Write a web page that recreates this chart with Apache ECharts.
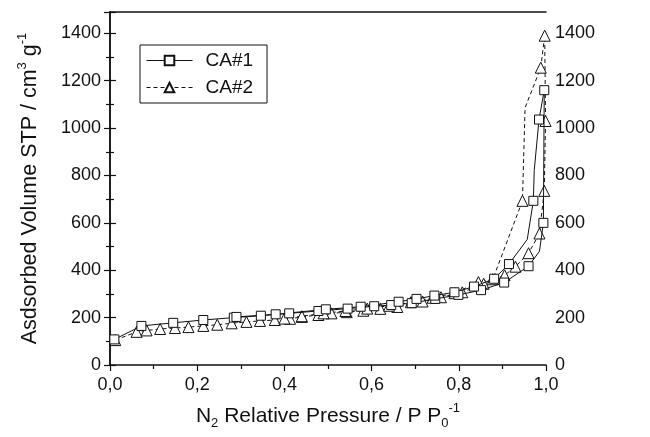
<!DOCTYPE html>
<html><head><meta charset="utf-8">
<script src="https://cdn.jsdelivr.net/npm/echarts@6/dist/echarts.min.js"></script>
<style>html,body{margin:0;padding:0;background:#fff}#c{width:650px;height:437px}</style>
</head><body><div id="c"></div>
<script>
// ---- data ----
const seriesNames = ['CA#1', 'CA#2'];
const xTickValues = [0, 0.2, 0.4, 0.6, 0.8, 1.0];
const yTickValues = [0, 200, 400, 600, 800, 1000, 1200, 1400];

// CA#1 : adsorption then desorption branch; marker flag 1 = symbol drawn
const ca1Pressure = [0.010,0.072,0.145,0.214,0.284,0.346,0.411,0.478,0.545,0.606,0.645,0.692,0.746,0.799,0.851,0.904,0.960,0.985,0.994,0.996,
                     0.984,0.973,0.971,0.957,0.915,0.881,0.835,0.790,0.744,0.703,0.662,0.575,0.495,0.380,0.290];
const ca1Volume   = [108,165,178,190,200,208,218,228,238,248,253,261,279,296,316,348,417,480,600,1160,
                     1036,821,693,530,426,364,331,307,293,279,267,246,235,214,203];
const ca1Marker   = [1,1,1,1,1,1,1,1,1,1,1,1,1,1,1,1,1,0,1,1,
                     1,0,1,0,1,1,1,1,1,1,1,1,1,1,1];

// CA#2
const ca2Pressure = [0.012,0.061,0.084,0.115,0.149,0.180,0.214,0.246,0.279,0.313,0.344,0.378,0.413,0.440,0.478,0.508,0.543,0.581,0.620,0.659,0.717,0.759,0.808,0.857,0.905,0.930,0.960,0.985,0.996,0.999,0.997,
                     0.988,0.952,0.946,0.878,0.845,0.790,0.740,0.690,0.640,0.590,0.540,0.490,0.440,0.400];
const ca2Volume   = [105,140,146,152,156,160,165,170,176,182,186,190,195,203,211,218,223,229,237,245,268,286,307,343,379,415,472,555,735,1030,1390,
                     1255,1086,693,362,350,303,284,265,250,238,228,218,206,196];
const ca2Marker   = [1,1,1,1,1,1,1,1,1,1,1,1,1,1,1,1,1,1,1,1,1,1,1,1,1,1,1,1,1,1,1,
                     1,0,1,1,1,1,1,1,1,1,1,1,1,1];

function build(p, v, m) {
  return p.map((x, i) => m[i] ? { value: [x, v[i]] } : { value: [x, v[i]], symbol: 'none' });
}

const FONT = 'Liberation Sans, Arial, sans-serif';
const INK = '#111';
const tickFmtX = val => val.toFixed(1).replace('.', ',');
const tickFmtY = val => (yTickValues.indexOf(Math.round(val)) >= 0 ? String(Math.round(val)) : '');

const chart = echarts.init(document.getElementById('c'), null, { renderer: 'canvas' });

const baseY = {
  type: 'value', min: 0, max: 1490, interval: 200,
  axisLine: { show: true, lineStyle: { color: INK, width: 1.5 } },
  axisTick: { show: true, length: 6, lineStyle: { color: INK, width: 1.2 } },
  minorTick: { show: true, splitNumber: 2, length: 4, lineStyle: { color: INK, width: 1.2 } },
  splitLine: { show: false },
  axisLabel: { color: INK, fontFamily: FONT, fontSize: 18, margin: 9, showMaxLabel: false, formatter: tickFmtY }
};

chart.setOption({
  animation: false,
  backgroundColor: '#fff',
  grid: { left: 110, right: 104, top: 12, bottom: 72 },
  legend: {
    left: 140, top: 45, orient: 'vertical',
    data: seriesNames,
    itemWidth: 46, itemHeight: 12, itemGap: 8,
    borderColor: INK, borderWidth: 1, padding: [6, 14, 6, 6],
    lineStyle: { width: 1 },
    textStyle: { color: INK, fontFamily: FONT, fontSize: 19, padding: [0, 0, 0, 8] }
  },
  xAxis: [{
    type: 'value', min: 0, max: 1, interval: 0.2,
    name: 'N{sub|2} Relative Pressure / P P{sub|0}{sup|-1}',
    nameLocation: 'middle', nameGap: 37,
    nameTextStyle: {
      color: INK, fontFamily: FONT, fontSize: 21, lineHeight: 28,
      rich: {
        sub: { fontFamily: FONT, fontSize: 13, color: INK, lineHeight: 13, verticalAlign: 'bottom' },
        sup: { fontFamily: FONT, fontSize: 13, color: INK, lineHeight: 13, verticalAlign: 'top' }
      }
    },
    axisLine: { show: true, onZero: false, lineStyle: { color: INK, width: 1.5 } },
    axisTick: { show: true, length: 6, lineStyle: { color: INK, width: 1.2 } },
    minorTick: { show: true, splitNumber: 2, length: 4, lineStyle: { color: INK, width: 1.2 } },
    splitLine: { show: false },
    axisLabel: { color: INK, fontFamily: FONT, fontSize: 18, margin: 11, formatter: tickFmtX }
  }, {
    type: 'value', min: 0, max: 1, position: 'top',
    axisLine: { show: true, onZero: false, lineStyle: { color: INK, width: 1.5 } },
    axisTick: { show: false }, axisLabel: { show: false }, splitLine: { show: false }
  }],
  yAxis: [Object.assign({}, baseY, {
    position: 'left',
    name: 'Asdsorbed Volume STP / cm{sup|3} g{sup|-1}',
    nameLocation: 'middle', nameGap: 66, nameRotate: 90,
    nameTextStyle: {
      color: INK, fontFamily: FONT, fontSize: 21.5, lineHeight: 28,
      rich: {
        sup: { fontFamily: FONT, fontSize: 13, color: INK, lineHeight: 13, verticalAlign: 'top' }
      }
    }
  }), Object.assign({}, baseY, { position: 'right' })],
  series: [{
    name: seriesNames[0], type: 'line', z: 3, clip: false,
    data: build(ca1Pressure, ca1Volume, ca1Marker),
    symbol: 'rect', symbolSize: 9, showAllSymbol: true,
    lineStyle: { color: INK, width: 1, type: 'solid' },
    itemStyle: { color: '#fff', borderColor: INK, borderWidth: 1 }
  }, {
    name: seriesNames[1], type: 'line', z: 2, clip: false,
    data: build(ca2Pressure, ca2Volume, ca2Marker),
    symbol: 'triangle', symbolSize: 11, showAllSymbol: true,
    lineStyle: { color: INK, width: 1, type: [4, 3] },
    itemStyle: { color: '#fff', borderColor: INK, borderWidth: 1 }
  }]
});
</script></body></html>
